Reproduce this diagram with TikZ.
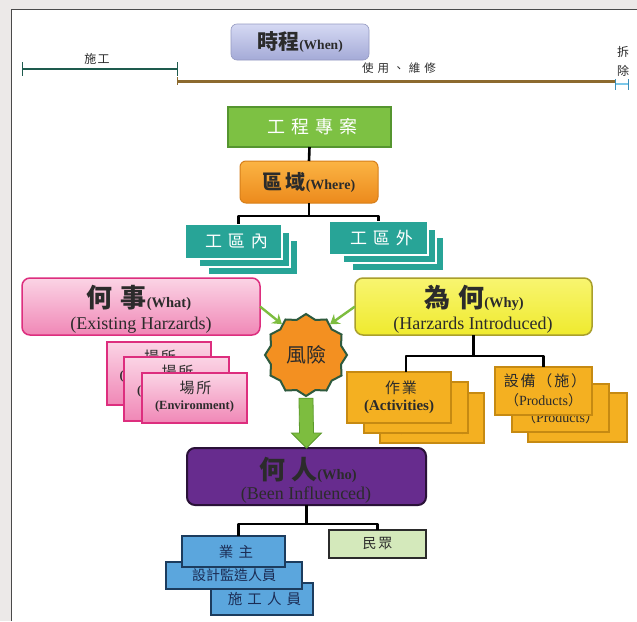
\documentclass[tikz,border=0pt]{standalone}
\usepackage{fontspec}
\setmainfont{Liberation Serif}
\newfontfamily\cjk{Noto Sans CJK TC}
\newfontfamily\cjksp[LetterSpace=12]{Noto Sans CJK TC}
\newfontfamily\cjkspl[LetterSpace=35]{Noto Sans CJK TC}
\usetikzlibrary{shapes.geometric,calc,arrows.meta}

\definecolor{outerbg}{HTML}{ECE9E8}
\definecolor{frameline}{HTML}{4A4A4A}
\definecolor{buildbar}{HTML}{1E5B4E}
\definecolor{usebar}{HTML}{8C6A2E}
\definecolor{demobar}{HTML}{7CC8EA}
\definecolor{demotick}{HTML}{3B8DB8}
\definecolor{whentop}{HTML}{D5D9F3}
\definecolor{whenbot}{HTML}{A4AAD7}
\definecolor{projfill}{HTML}{7DC143}
\definecolor{projline}{HTML}{55952F}
\definecolor{wheretop}{HTML}{FBB444}
\definecolor{wherebot}{HTML}{EC8A1C}
\definecolor{whereline}{HTML}{D67F1A}
\definecolor{zonefill}{HTML}{28A497}
\definecolor{whattop}{HTML}{FBD4E5}
\definecolor{whatbot}{HTML}{F087B6}
\definecolor{whatline}{HTML}{DD2E7E}
\definecolor{whytop}{HTML}{F8F570}
\definecolor{whybot}{HTML}{EFEA2E}
\definecolor{whyline}{HTML}{A99F2C}
\definecolor{riskfill}{HTML}{F39021}
\definecolor{riskline}{HTML}{2E5A3E}
\definecolor{arrowgreen}{HTML}{7DBD3F}
\definecolor{arrowline}{HTML}{5C9A2C}
\definecolor{taskfill}{HTML}{F4B021}
\definecolor{taskline}{HTML}{C68A12}
\definecolor{whofill}{HTML}{672C8E}
\definecolor{wholine}{HTML}{2A1238}
\definecolor{staffill}{HTML}{5BA6DD}
\definecolor{staffline}{HTML}{1C3C5E}
\definecolor{stafftext}{HTML}{1B2C54}
\definecolor{publicfill}{HTML}{D4E9BB}
\definecolor{inktext}{HTML}{2B2B2B}

\tikzset{
  bx/.style 2 args={minimum width=#1pt, minimum height=#2pt, inner sep=0pt, outer sep=0pt},
  tlabel/.style={inner sep=0pt, text=inktext, font=\cjk\fontsize{12}{12}\selectfont},
  conn/.style={draw=black, line width=2.6pt, line join=round},
  zone/.style={fill=zonefill, draw=white, line width=1.6pt},
  pinkcard/.style={top color=whattop, bottom color=whatbot, draw=whatline, line width=1.4pt},
  taskcard/.style={fill=taskfill, draw=taskline, line width=1.2pt},
  staffbox/.style={fill=staffill, draw=staffline, line width=1.2pt, text=stafftext,
                   font=\cjksp\fontsize{14.5}{15}\selectfont},
  cardcjk/.style={inner sep=0pt, text=inktext, font=\cjksp\fontsize{15}{15}\selectfont},
  envlatin/.style={inner sep=0pt, text=inktext, font=\bfseries\fontsize{12.5}{13}\selectfont},
  actlatin/.style={inner sep=0pt, text=inktext, font=\bfseries\fontsize{15}{15}\selectfont},
  prodlatin/.style={inner sep=0pt, text=inktext, font=\fontsize{14}{14}\selectfont},
  garrow/.style={draw=arrowgreen, line width=2.4pt, -{Stealth[length=9pt,width=12pt]}},
  bigcjk/.style={inner sep=0pt, text=inktext},
}
% parenthesised Latin word with full-width brackets
\newcommand\wideparen[1]{{\cjk （}#1{\cjk ）}}

\begin{document}
\begin{tikzpicture}[x=1pt,y=-1pt]
\useasboundingbox (0,0) rectangle (637,621);

% page and frame
\fill[outerbg] (0,0) rectangle (637,621);
\fill[white] (11,9) rectangle (637,621);
\draw[frameline, line width=1pt] (11,621) -- (11,9) -- (637,9);

% ---- time line ----
\coordinate (b0) at (22,69);
\coordinate (b1) at (177,69);
\coordinate (u1) at (615,81);
\coordinate (d1) at (628,84);
\draw[buildbar, line width=2.6pt] (b0) -- (b1);
\draw[buildbar, line width=1pt] (b0) ++(0,-7) -- ++(0,14);
\draw[buildbar, line width=1pt] (b1) ++(0,-7) -- ++(0,14);
\draw[usebar, line width=3pt] (b1 |- u1) -- (u1);
\draw[usebar, line width=1pt] (b1 |- u1) ++(0,-4) -- ++(0,8);
\draw[demobar, line width=2.4pt] (u1 |- d1) -- (d1);
\draw[demotick, line width=1pt] (u1 |- d1) ++(0,-5) -- ++(0,11);
\draw[demotick, line width=1pt] (d1) ++(0,-5) -- ++(0,11);
\node[tlabel, font=\cjksp\fontsize{12}{12}\selectfont] (lbuild) at (97,59) {施工};
\node[tlabel, font=\cjkspl\fontsize{11.5}{12}\selectfont] (luse) at (399,68) {使用、維修};
\node[tlabel] (ldemo1) at (623,52) {拆};
\node[tlabel] (ldemo2) at (623,71) {除};

\node[bx={138}{36}, rounded corners=6pt, top color=whentop, bottom color=whenbot,
      draw=whenbot!90!black, line width=0.6pt, text=inktext] (when) at (300,42)
  {{\cjk\bfseries\fontsize{21}{21}\selectfont 時程}{\bfseries\fontsize{13.5}{14}\selectfont(When)}};

% ---- project and area ----
\node[bx={163}{40}, fill=projfill, draw=projline, line width=1.5pt, text=white] (proj) at (309.5,127)
  {\cjkspl\fontsize{18}{18}\selectfont\kern6pt 工程專案};
\node[bx={138}{42}, rounded corners=6pt, top color=wheretop, bottom color=wherebot,
      draw=whereline, line width=1pt, text=inktext] (where) at (309,182)
  {{\cjk\bfseries\fontsize{20}{20}\selectfont 區\kern3pt 域}{\bfseries\fontsize{14}{14}\selectfont(Where)}};

% inside / outside zone stacks
\node[bx={90}{35}, zone] (in3) at (253,257.5) {};
\node[bx={91}{35}, zone] (in2) at (244.5,249.5) {};
\node[bx={97}{35}, zone, text=white] (in1) at (233.5,241.5)
  {\cjkspl\fontsize{17}{17}\selectfont\kern6pt 工區內};
\node[bx={92}{34}, zone] (out3) at (398,254) {};
\node[bx={93}{34}, zone] (out2) at (389.5,246) {};
\node[bx={99}{34}, zone, text=white] (out1) at (378.5,238)
  {\cjkspl\fontsize{17}{17}\selectfont\kern6pt 工區外};

\draw[conn] (proj.south) -- (where.north);
\draw[conn] (where.south) -- ++(0,13) -| ($(in1.north)+(5,0)$);
\draw[conn] (where.south) -- ++(0,13) -| (out1.north);

% ---- what / why ----
\node[bx={238}{57}, rounded corners=8pt, top color=whattop, bottom color=whatbot,
      draw=whatline, line width=1.5pt] (what) at (141,306.5) {};
\node[bigcjk] (whattitle) at (139,298)
  {{\cjk\bfseries\fontsize{26}{26}\selectfont 何\kern8pt 事}{\bfseries\fontsize{14.5}{15}\selectfont(What)}};
\node[bigcjk] (whatsub) at (141,325) {\fontsize{18}{18}\selectfont(Existing Harzards)};

\node[bx={237}{57}, rounded corners=8pt, top color=whytop, bottom color=whybot,
      draw=whyline, line width=1.5pt] (why) at (473.5,306.5) {};
\node[bigcjk] (whytitle) at (474,298)
  {{\cjk\bfseries\fontsize{26}{26}\selectfont 為\kern8pt 何}{\bfseries\fontsize{14.5}{15}\selectfont(Why)}};
\node[bigcjk] (whysub) at (473,325) {\fontsize{18}{18}\selectfont(Harzards Introduced)};

% environment cards (back to front)
\node[bx={104}{63}, pinkcard] (env1) at (159,373.5) {};
\node[cardcjk] (env1a) at (160,357) {場所};
\node[envlatin] (env1b) at (159,376) {(Environment)};
\node[bx={105}{64}, pinkcard] (env2) at (176.5,389) {};
\node[cardcjk] (env2a) at (177.5,372) {場所};
\node[envlatin] (env2b) at (176.5,391) {(Environment)};
\node[bx={105}{50}, pinkcard] (env3) at (194.5,398) {};
\node[cardcjk] (env3a) at (195.5,388) {場所};
\node[envlatin] (env3b) at (194.5,406) {(Environment)};

% activity cards (back to front)
\node[bx={104}{50}, taskcard] (act3) at (432,418) {};
\node[cardcjk] (act3a) at (433,409) {作業};
\node[actlatin] (act3b) at (432,428) {(Activities)};
\node[bx={104}{51}, taskcard] (act2) at (416,407.5) {};
\node[cardcjk] (act2a) at (417,398) {作業};
\node[actlatin] (act2b) at (416,417) {(Activities)};
\node[bx={104}{51}, taskcard] (act1) at (399,397.5) {};
\node[cardcjk] (act1a) at (401,388) {作業};
\node[actlatin] (act1b) at (399,407) {(Activities)};

% product cards (back to front)
\node[bx={99}{49}, taskcard] (prod3) at (577.5,417.5) {};
\node[cardcjk] (prod3a) at (579,407) {設備（施）};
\node[prodlatin] (prod3b) at (577.5,426) {\wideparen{Products}};
\node[bx={97}{48}, taskcard] (prod2) at (560.5,408) {};
\node[cardcjk] (prod2a) at (562,398) {設備（施）};
\node[prodlatin] (prod2b) at (560.5,417) {\wideparen{Products}};
\node[bx={97}{48}, taskcard] (prod1) at (543.5,391) {};
\node[cardcjk] (prod1a) at (545,381) {設備（施）};
\node[prodlatin] (prod1b) at (543.5,400) {\wideparen{Products}};

\draw[conn] (why.south) -- ++(0,21) -| ($(act1.north)+(7,0)$);
\draw[conn] (why.south) -- ++(0,21) -| (prod1.north);

% ---- risk ----
\node[star, star points=12, star point ratio=1.13, minimum size=82pt, inner sep=0pt,
      fill=riskfill, draw=riskline, line width=2pt, text=inktext] (risk) at (306,355)
  {\cjk\fontsize{20}{20}\selectfont 風險};
\draw[garrow] (what.east) -- (risk.128);
\draw[garrow] (why.west) -- (risk.52);

% ---- who ----
\node[bx={239}{57}, rounded corners=8pt, fill=whofill, draw=wholine, line width=2pt] (who) at (306.5,476.5) {};
\node[bigcjk] (whotitle) at (308,470)
  {{\cjk\bfseries\fontsize{26}{26}\selectfont 何\kern6pt 人}{\bfseries\fontsize{14.5}{15}\selectfont(Who)}};
\node[bigcjk] (whosub) at (306,495) {\fontsize{18}{18}\selectfont(Been Influenced)};

\draw[arrowline, fill=arrowgreen, line width=0.8pt]
  ($(risk.south)+(-7,1)$) -- ($(risk.south)+(7,1)$) -- ($(who.north)+(7,-15)$)
  -- ($(who.north)+(15,-15)$) -- (who.north) -- ($(who.north)+(-15,-15)$)
  -- ($(who.north)+(-7,-15)$) -- cycle;

% affected people (back to front)
\node[bx={102}{32}, staffbox, font=\cjkspl\fontsize{14.5}{15}\selectfont] (crew) at (262,599) {\kern5pt 施工人員};
\node[bx={136}{27}, staffbox, font=\cjk\fontsize{14}{14}\selectfont] (design) at (234,575.5) {設計監造人員};
\node[bx={103}{31}, staffbox, font=\cjkspl\fontsize{14.5}{15}\selectfont] (own) at (233.5,551.5) {\kern5pt 業主};
\node[bx={97}{28}, fill=publicfill, draw=inktext, line width=1.2pt, text=inktext,
      font=\cjksp\fontsize{14}{14}\selectfont] (pub) at (377.5,544) {民眾};

\draw[conn] (who.south) -- ++(0,19) -| ($(own.north)+(5,0)$);
\draw[conn] (who.south) -- ++(0,19) -| (pub.north);
\end{tikzpicture}
\end{document}
